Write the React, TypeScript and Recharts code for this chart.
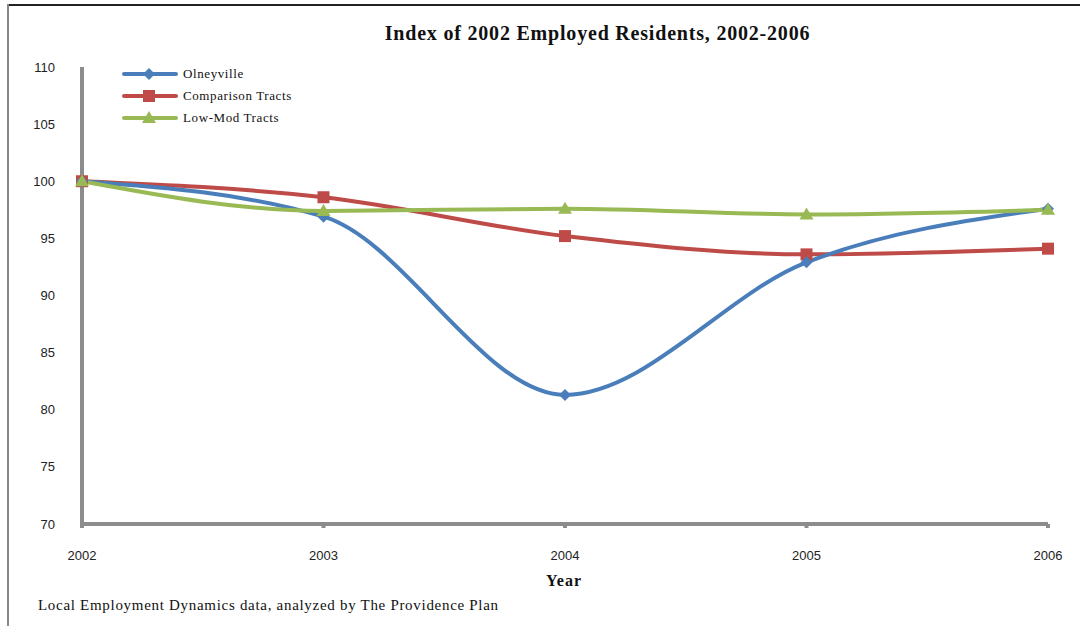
import { LineChart, Line, XAxis, YAxis } from "recharts";

// years on the x axis
const years = [2002, 2003, 2004, 2005, 2006];

// index values (2002 = 100)
const olneyville = [100, 96.9, 81.3, 92.9, 97.6];
const comparison = [100, 98.6, 95.2, 93.6, 94.1];
const lowMod = [100, 97.4, 97.6, 97.1, 97.5];

const yTicks = [70, 75, 80, 85, 90, 95, 100, 105, 110];

const data = years.map((year, i) => ({
  year,
  olneyville: olneyville[i],
  comparison: comparison[i],
  lowMod: lowMod[i],
}));

const BLUE = "#4a7ebb";
const RED = "#be4b48";
const GREEN = "#98b954";
const AXIS = "#8c8c8c";
const SERIF = "'Liberation Serif', serif";

type Shape = "diamond" | "square" | "triangle";

function marker(shape: Shape, x: number, y: number, color: string, key?: string) {
  if (shape === "diamond") {
    return <path key={key} d={`M${x},${y - 6}L${x + 6},${y}L${x},${y + 6}L${x - 6},${y}Z`} fill={color} />;
  }
  if (shape === "square") {
    return <rect key={key} x={x - 6} y={y - 6} width={12} height={12} fill={color} />;
  }
  return <path key={key} d={`M${x},${y - 7}L${x + 7},${y + 5}L${x - 7},${y + 5}Z`} fill={color} />;
}

const dotFor = (shape: Shape, color: string) => (props: any) => {
  const { cx, cy, index } = props;
  if (cx == null || cy == null) return <g key={index} />;
  return marker(shape, cx, cy, color, `d${index}`);
};

const legendItems: { label: string; color: string; shape: Shape }[] = [
  { label: "Olneyville", color: BLUE, shape: "diamond" },
  { label: "Comparison Tracts", color: RED, shape: "square" },
  { label: "Low-Mod Tracts", color: GREEN, shape: "triangle" },
];

// legend drawn on top of the plot, upper left
function LegendBox() {
  return (
    <svg width={260} height={70} style={{ position: "absolute", left: 120, top: 63 }}>
      {legendItems.map((it, i) => {
        const y = 11 + i * 22;
        return (
          <g key={it.label}>
            <line x1={4} x2={56} y1={y} y2={y} stroke={it.color} strokeWidth={4} strokeLinecap="round" />
            {marker(it.shape, 29, y, it.color)}
            <text x={63} y={y + 4} fontFamily={SERIF} fontSize={13} letterSpacing={0.6} fill="#111">
              {it.label}
            </text>
          </g>
        );
      })}
    </svg>
  );
}

export default function App() {
  return (
    <div style={{ position: "fixed", left: 0, top: 0, width: 1080, height: 626, background: "#fff" }}>
      {/* frame lines */}
      <div style={{ position: "absolute", left: 7, top: 4, right: 0, height: 2, background: "#222" }} />
      <div style={{ position: "absolute", left: 7, top: 4, bottom: 0, width: 2, background: "#888" }} />

      <div
        style={{
          position: "absolute",
          left: 0,
          width: 1080,
          paddingLeft: 115,
          top: 22,
          textAlign: "center",
          boxSizing: "border-box",
          fontFamily: SERIF,
          fontWeight: "bold",
          fontSize: 20,
          letterSpacing: 0.8,
          color: "#111",
        }}
      >
        Index of 2002 Employed Residents, 2002-2006
      </div>

      <LineChart
        width={1080}
        height={626}
        data={data}
        margin={{ top: 67, right: 32, bottom: 62, left: 22 }}
        style={{ position: "absolute", left: 0, top: 0 }}
      >
        <XAxis
          dataKey="year"
          type="number"
          domain={[2002, 2006]}
          ticks={years}
          height={40}
          stroke={AXIS}
          strokeWidth={4}
          tickSize={4}
          tickMargin={23}
          tick={{ fill: "#222", fontSize: 13, fontFamily: "'Liberation Sans', Arial, sans-serif" }}
        />
        <YAxis
          domain={[70, 110]}
          ticks={yTicks}
          width={60}
          stroke={AXIS}
          strokeWidth={4}
          tickLine={false}
          tickMargin={21}
          tick={{ fill: "#222", fontSize: 13, fontFamily: "'Liberation Sans', Arial, sans-serif" }}
        />
        <Line
          type="monotone"
          dataKey="comparison"
          name="Comparison Tracts"
          stroke={RED}
          strokeWidth={4}
          dot={dotFor("square", RED)}
          isAnimationActive={false}
        />
        <Line
          type="monotone"
          dataKey="olneyville"
          name="Olneyville"
          stroke={BLUE}
          strokeWidth={4}
          dot={dotFor("diamond", BLUE)}
          isAnimationActive={false}
        />
        <Line
          type="monotone"
          dataKey="lowMod"
          name="Low-Mod Tracts"
          stroke={GREEN}
          strokeWidth={4}
          dot={dotFor("triangle", GREEN)}
          isAnimationActive={false}
        />
      </LineChart>

      <LegendBox />

      <div
        style={{
          position: "absolute",
          left: 0,
          width: 1080,
          paddingLeft: 48,
          top: 572,
          textAlign: "center",
          boxSizing: "border-box",
          fontFamily: SERIF,
          fontWeight: "bold",
          fontSize: 16,
          letterSpacing: 1,
          color: "#111",
        }}
      >
        Year
      </div>
      <div
        style={{
          position: "absolute",
          left: 38,
          top: 597,
          fontFamily: SERIF,
          fontSize: 15,
          letterSpacing: 0.7,
          color: "#111",
        }}
      >
        Local Employment Dynamics data, analyzed by The Providence Plan
      </div>
    </div>
  );
}
